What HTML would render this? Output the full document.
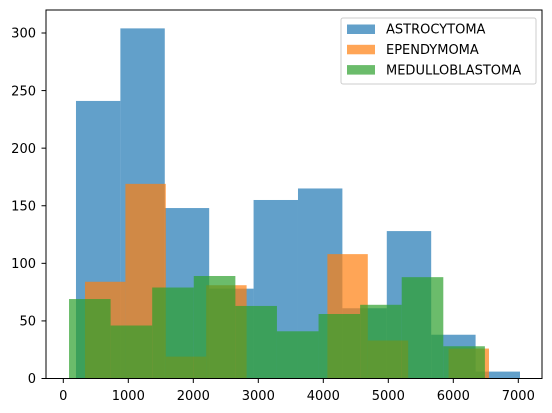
<!DOCTYPE html>
<html><head><meta charset="utf-8"><style>
body{margin:0;background:#fff;}
svg{display:block;font-family:"DejaVu Sans","Liberation Sans",sans-serif;}
</style></head><body>
<svg id="chart" width="552" height="413" viewBox="0 0 552 413"></svg>
<script>
const seriesNames = ["ASTROCYTOMA","EPENDYMOMA","MEDULLOBLASTOMA"];
const seriesColors = ["#1f77b4","#ff7f0e","#2ca02c"];
const astroStart = 195, astroEnd = 7026;
const astroCounts = [241,304,148,78,155,165,61,128,38,6];
const ependStart = 334, ependEnd = 6549;
const ependCounts = [84,169,19,81,0,0,108,33,0,26];
const meduStart = 88, meduEnd = 6486;
const meduCounts = [69,46,79,89,63,41,56,64,88,28];
const xTicks = [0,1000,2000,3000,4000,5000,6000,7000];
const yTicks = [0,50,100,150,200,250,300];

const NS="http://www.w3.org/2000/svg";
const svg=document.getElementById('chart');
const L=46,R=542,T=10,B=378.5;
const xs=v=>63.3+v*0.065;
const ys=v=>B-v*1.1517;
function mk(tag,attrs,parent){const e=document.createElementNS(NS,tag);for(const k in attrs)e.setAttribute(k,attrs[k]);(parent||svg).appendChild(e);return e;}

const series=[[astroStart,astroEnd,astroCounts],[ependStart,ependEnd,ependCounts],[meduStart,meduEnd,meduCounts]];
series.forEach((s,si)=>{
  const g=mk('g',{});
  
  
  const w=(s[1]-s[0])/s[2].length;
  s[2].forEach((c,i)=>{
    if(c<=0)return;
    const x0=xs(s[0]+i*w),x1=xs(s[0]+(i+1)*w);
    const r=mk('rect',{x:x0,y:ys(c),width:x1-x0,height:B-ys(c),fill:seriesColors[si],'fill-opacity':0.7},g);
    
    
  });
});

const frame=mk('rect',{x:L,y:T,width:R-L,height:B-T,fill:'none',stroke:'#000','stroke-width':1});



xTicks.forEach(t=>{
  const x=xs(t);
  mk('line',{x1:x,x2:x,y1:B,y2:B+4.5,stroke:'#000','stroke-width':1});
  const tx=mk('text',{x:x,y:B+21.5,'text-anchor':'middle','font-size':13,fill:'#000'});
  tx.textContent=t;
  
  
});
yTicks.forEach(t=>{
  const y=ys(t);
  mk('line',{x1:L,x2:L-4.5,y1:y,y2:y,stroke:'#000','stroke-width':1});
  const tx=mk('text',{x:L-10,y:y+4.7,'text-anchor':'end','font-size':13,fill:'#000'});
  tx.textContent=t;
  
  
});

const lg=mk('g',{});


mk('rect',{x:341,y:18,width:195,height:66,rx:2,fill:'#fff','fill-opacity':0.8,stroke:'#ccc','stroke-width':1},lg);
seriesNames.forEach((n,i)=>{
  const cy=29+i*20.3;
  const e=mk('g',{},lg);
  
  
  mk('rect',{x:347,y:cy-4.5,width:28,height:9.5,fill:seriesColors[i],'fill-opacity':0.7},e);
  const t=mk('text',{x:386,y:cy+4.7,'font-size':13,fill:'#000'},e);
  t.textContent=n;
});
</script>
</body></html>
